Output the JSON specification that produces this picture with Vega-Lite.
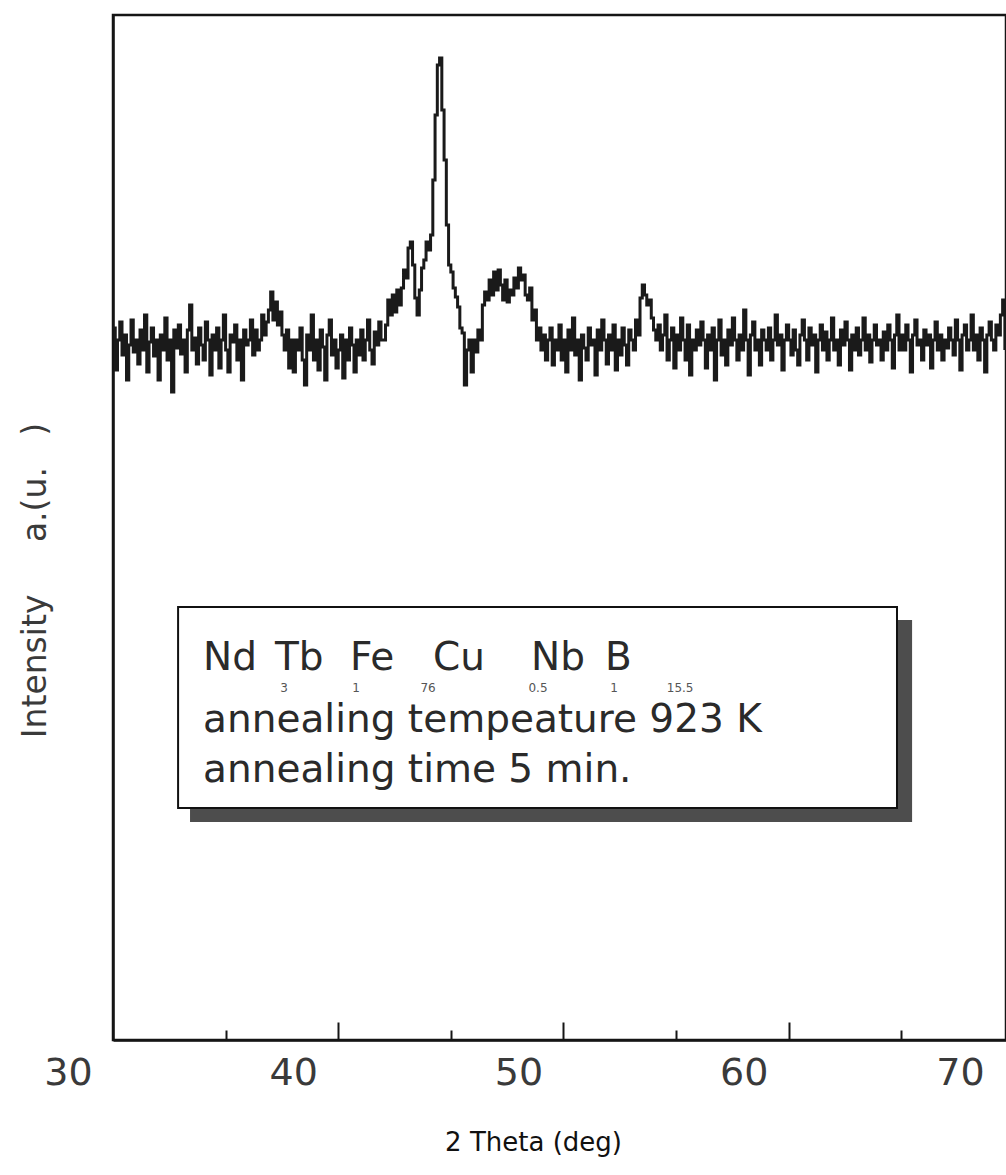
{
"$schema": "https://vega.github.io/schema/vega-lite/v6.json",
"width": 893, "height": 1025,
"autosize": {"type": "none"},
"padding": {"left": 113, "top": 15, "right": 0, "bottom": 135},
"background": "white",
"config": {"view": {"stroke": "#151515", "strokeWidth": 2.5}, "font": "DejaVu Sans"},
"datasets": {"xrd": [
{"t":30.0,"i":712},{"t":30.1,"i":670},{"t":30.2,"i":700},{"t":30.3,"i":718},{"t":30.4,"i":685},{"t":30.5,"i":705},{"t":30.6,"i":660},{"t":30.7,"i":695},{"t":30.8,"i":720},{"t":30.9,"i":688},
{"t":31.0,"i":700},{"t":31.1,"i":676},{"t":31.2,"i":710},{"t":31.3,"i":690},{"t":31.4,"i":725},{"t":31.5,"i":668},{"t":31.6,"i":698},{"t":31.7,"i":712},{"t":31.8,"i":684},{"t":31.9,"i":700},
{"t":32.0,"i":660},{"t":32.1,"i":705},{"t":32.2,"i":690},{"t":32.3,"i":722},{"t":32.4,"i":680},{"t":32.5,"i":700},{"t":32.6,"i":648},{"t":32.7,"i":710},{"t":32.8,"i":692},{"t":32.9,"i":715},
{"t":33.0,"i":686},{"t":33.1,"i":700},{"t":33.2,"i":668},{"t":33.3,"i":710},{"t":33.4,"i":735},{"t":33.5,"i":690},{"t":33.6,"i":702},{"t":33.7,"i":676},{"t":33.8,"i":712},{"t":33.9,"i":695},
{"t":34.0,"i":680},{"t":34.1,"i":718},{"t":34.2,"i":700},{"t":34.3,"i":665},{"t":34.4,"i":705},{"t":34.5,"i":690},{"t":34.6,"i":712},{"t":34.7,"i":672},{"t":34.8,"i":700},{"t":34.9,"i":725},
{"t":35.0,"i":690},{"t":35.1,"i":668},{"t":35.2,"i":705},{"t":35.3,"i":698},{"t":35.4,"i":715},{"t":35.5,"i":680},{"t":35.6,"i":700},{"t":35.7,"i":660},{"t":35.8,"i":710},{"t":35.9,"i":695},
{"t":36.0,"i":700},{"t":36.1,"i":720},{"t":36.2,"i":685},{"t":36.3,"i":710},{"t":36.4,"i":690},{"t":36.5,"i":700},{"t":36.6,"i":725},{"t":36.7,"i":705},{"t":36.8,"i":718},{"t":36.9,"i":730},
{"t":37.0,"i":748},{"t":37.1,"i":720},{"t":37.2,"i":738},{"t":37.3,"i":715},{"t":37.4,"i":728},{"t":37.5,"i":705},{"t":37.6,"i":690},{"t":37.7,"i":710},{"t":37.8,"i":672},{"t":37.9,"i":700},
{"t":38.0,"i":668},{"t":38.1,"i":700},{"t":38.2,"i":690},{"t":38.3,"i":712},{"t":38.4,"i":680},{"t":38.5,"i":655},{"t":38.6,"i":705},{"t":38.7,"i":690},{"t":38.8,"i":725},{"t":38.9,"i":680},
{"t":39.0,"i":700},{"t":39.1,"i":670},{"t":39.2,"i":710},{"t":39.3,"i":693},{"t":39.4,"i":660},{"t":39.5,"i":705},{"t":39.6,"i":720},{"t":39.7,"i":685},{"t":39.8,"i":700},{"t":39.9,"i":672},
{"t":40.0,"i":690},{"t":40.1,"i":705},{"t":40.2,"i":662},{"t":40.3,"i":700},{"t":40.4,"i":680},{"t":40.5,"i":712},{"t":40.6,"i":695},{"t":40.7,"i":668},{"t":40.8,"i":700},{"t":40.9,"i":685},
{"t":41.0,"i":710},{"t":41.1,"i":680},{"t":41.2,"i":700},{"t":41.3,"i":720},{"t":41.4,"i":690},{"t":41.5,"i":676},{"t":41.6,"i":708},{"t":41.7,"i":695},{"t":41.8,"i":718},{"t":41.9,"i":700},
{"t":42.0,"i":700},{"t":42.1,"i":715},{"t":42.2,"i":740},{"t":42.3,"i":725},{"t":42.4,"i":745},{"t":42.5,"i":728},{"t":42.6,"i":750},{"t":42.7,"i":735},{"t":42.8,"i":752},{"t":42.9,"i":770},
{"t":43.0,"i":762},{"t":43.1,"i":792},{"t":43.2,"i":798},{"t":43.3,"i":775},{"t":43.4,"i":742},{"t":43.5,"i":725},{"t":43.6,"i":750},{"t":43.7,"i":772},{"t":43.8,"i":780},{"t":43.9,"i":798},
{"t":44.0,"i":790},{"t":44.1,"i":805},{"t":44.2,"i":860},{"t":44.3,"i":925},{"t":44.4,"i":975},{"t":44.5,"i":982},{"t":44.6,"i":930},{"t":44.7,"i":880},{"t":44.8,"i":815},{"t":44.9,"i":775},
{"t":45.0,"i":768},{"t":45.1,"i":752},{"t":45.2,"i":743},{"t":45.3,"i":733},{"t":45.4,"i":712},{"t":45.5,"i":707},{"t":45.6,"i":655},{"t":45.7,"i":690},{"t":45.8,"i":700},{"t":45.9,"i":668},
{"t":46.0,"i":700},{"t":46.1,"i":688},{"t":46.2,"i":710},{"t":46.3,"i":700},{"t":46.4,"i":735},{"t":46.5,"i":748},{"t":46.6,"i":740},{"t":46.7,"i":760},{"t":46.8,"i":745},{"t":46.9,"i":768},
{"t":47.0,"i":750},{"t":47.1,"i":770},{"t":47.2,"i":755},{"t":47.3,"i":740},{"t":47.4,"i":760},{"t":47.5,"i":738},{"t":47.6,"i":750},{"t":47.7,"i":745},{"t":47.8,"i":762},{"t":47.9,"i":752},
{"t":48.0,"i":772},{"t":48.1,"i":760},{"t":48.2,"i":765},{"t":48.3,"i":745},{"t":48.4,"i":740},{"t":48.5,"i":752},{"t":48.6,"i":720},{"t":48.7,"i":730},{"t":48.8,"i":700},{"t":48.9,"i":712},
{"t":49.0,"i":690},{"t":49.1,"i":705},{"t":49.2,"i":680},{"t":49.3,"i":700},{"t":49.4,"i":712},{"t":49.5,"i":675},{"t":49.6,"i":700},{"t":49.7,"i":690},{"t":49.8,"i":715},{"t":49.9,"i":680},
{"t":50.0,"i":700},{"t":50.1,"i":668},{"t":50.2,"i":710},{"t":50.3,"i":690},{"t":50.4,"i":722},{"t":50.5,"i":685},{"t":50.6,"i":700},{"t":50.7,"i":660},{"t":50.8,"i":705},{"t":50.9,"i":692},
{"t":51.0,"i":680},{"t":51.1,"i":712},{"t":51.2,"i":695},{"t":51.3,"i":700},{"t":51.4,"i":665},{"t":51.5,"i":710},{"t":51.6,"i":690},{"t":51.7,"i":720},{"t":51.8,"i":700},{"t":51.9,"i":676},
{"t":52.0,"i":705},{"t":52.1,"i":690},{"t":52.2,"i":715},{"t":52.3,"i":670},{"t":52.4,"i":700},{"t":52.5,"i":685},{"t":52.6,"i":712},{"t":52.7,"i":695},{"t":52.8,"i":675},{"t":52.9,"i":710},
{"t":53.0,"i":700},{"t":53.1,"i":690},{"t":53.2,"i":720},{"t":53.3,"i":705},{"t":53.4,"i":742},{"t":53.5,"i":755},{"t":53.6,"i":745},{"t":53.7,"i":735},{"t":53.8,"i":740},{"t":53.9,"i":722},
{"t":54.0,"i":710},{"t":54.1,"i":700},{"t":54.2,"i":715},{"t":54.3,"i":690},{"t":54.4,"i":705},{"t":54.5,"i":725},{"t":54.6,"i":680},{"t":54.7,"i":700},{"t":54.8,"i":712},{"t":54.9,"i":672},
{"t":55.0,"i":705},{"t":55.1,"i":690},{"t":55.2,"i":722},{"t":55.3,"i":700},{"t":55.4,"i":680},{"t":55.5,"i":715},{"t":55.6,"i":665},{"t":55.7,"i":700},{"t":55.8,"i":690},{"t":55.9,"i":710},
{"t":56.0,"i":695},{"t":56.1,"i":718},{"t":56.2,"i":700},{"t":56.3,"i":672},{"t":56.4,"i":705},{"t":56.5,"i":690},{"t":56.6,"i":712},{"t":56.7,"i":660},{"t":56.8,"i":700},{"t":56.9,"i":720},
{"t":57.0,"i":685},{"t":57.1,"i":700},{"t":57.2,"i":675},{"t":57.3,"i":710},{"t":57.4,"i":695},{"t":57.5,"i":722},{"t":57.6,"i":700},{"t":57.7,"i":680},{"t":57.8,"i":705},{"t":57.9,"i":690},
{"t":58.0,"i":730},{"t":58.1,"i":700},{"t":58.2,"i":665},{"t":58.3,"i":705},{"t":58.4,"i":718},{"t":58.5,"i":690},{"t":58.6,"i":700},{"t":58.7,"i":675},{"t":58.8,"i":710},{"t":58.9,"i":700},
{"t":59.0,"i":690},{"t":59.1,"i":712},{"t":59.2,"i":680},{"t":59.3,"i":700},{"t":59.4,"i":725},{"t":59.5,"i":695},{"t":59.6,"i":705},{"t":59.7,"i":670},{"t":59.8,"i":700},{"t":59.9,"i":715},
{"t":60.0,"i":700},{"t":60.1,"i":685},{"t":60.2,"i":710},{"t":60.3,"i":690},{"t":60.4,"i":675},{"t":60.5,"i":705},{"t":60.6,"i":720},{"t":60.7,"i":700},{"t":60.8,"i":680},{"t":60.9,"i":712},
{"t":61.0,"i":695},{"t":61.1,"i":705},{"t":61.2,"i":668},{"t":61.3,"i":700},{"t":61.4,"i":715},{"t":61.5,"i":690},{"t":61.6,"i":708},{"t":61.7,"i":680},{"t":61.8,"i":700},{"t":61.9,"i":722},
{"t":62.0,"i":690},{"t":62.1,"i":700},{"t":62.2,"i":675},{"t":62.3,"i":710},{"t":62.4,"i":695},{"t":62.5,"i":718},{"t":62.6,"i":700},{"t":62.7,"i":670},{"t":62.8,"i":705},{"t":62.9,"i":690},
{"t":63.0,"i":712},{"t":63.1,"i":685},{"t":63.2,"i":700},{"t":63.3,"i":722},{"t":63.4,"i":690},{"t":63.5,"i":705},{"t":63.6,"i":678},{"t":63.7,"i":700},{"t":63.8,"i":715},{"t":63.9,"i":695},
{"t":64.0,"i":700},{"t":64.1,"i":680},{"t":64.2,"i":708},{"t":64.3,"i":690},{"t":64.4,"i":715},{"t":64.5,"i":700},{"t":64.6,"i":672},{"t":64.7,"i":705},{"t":64.8,"i":725},{"t":64.9,"i":690},
{"t":65.0,"i":705},{"t":65.1,"i":690},{"t":65.2,"i":715},{"t":65.3,"i":700},{"t":65.4,"i":668},{"t":65.5,"i":705},{"t":65.6,"i":720},{"t":65.7,"i":695},{"t":65.8,"i":700},{"t":65.9,"i":680},
{"t":66.0,"i":710},{"t":66.1,"i":695},{"t":66.2,"i":705},{"t":66.3,"i":672},{"t":66.4,"i":700},{"t":66.5,"i":718},{"t":66.6,"i":690},{"t":66.7,"i":705},{"t":66.8,"i":680},{"t":66.9,"i":700},
{"t":67.0,"i":692},{"t":67.1,"i":712},{"t":67.2,"i":700},{"t":67.3,"i":685},{"t":67.4,"i":720},{"t":67.5,"i":700},{"t":67.6,"i":670},{"t":67.7,"i":705},{"t":67.8,"i":715},{"t":67.9,"i":690},
{"t":68.0,"i":700},{"t":68.1,"i":725},{"t":68.2,"i":690},{"t":68.3,"i":705},{"t":68.4,"i":680},{"t":68.5,"i":712},{"t":68.6,"i":700},{"t":68.7,"i":668},{"t":68.8,"i":705},{"t":68.9,"i":718},
{"t":69.0,"i":700},{"t":69.1,"i":690},{"t":69.2,"i":715},{"t":69.3,"i":705},{"t":69.4,"i":725},{"t":69.5,"i":740},{"t":69.6,"i":690}
]},
"layer": [
{"data": {"name": "xrd"},
 "mark": {"type": "line", "interpolate": "step-after", "color": "#1a1a1a", "strokeWidth": 3, "clip": true},
 "encoding": {
  "x": {"field": "t", "type": "quantitative", "scale": {"domain": [30, 69.65], "nice": false, "zero": false},
   "axis": {"orient": "bottom", "values": [30, 40, 50, 60, 69.6], "labelExpr": "datum.value > 65 ? '70' : datum.label", "ticks": false, "tickSize": 0, "labelOffset": -45, "labelPadding": 14,
    "labelFontSize": 38, "labelColor": "#3a3a3a", "labelFont": "DejaVu Sans", "labelBaseline": "top", "labelFlush": false, "labelOverlap": false, "labelBound": false,
    "domainColor": "#151515", "domainWidth": 2.5, "grid": false,
    "title": "2 Theta (deg)", "titleFont": "DejaVu Sans", "titleFontSize": 26, "titleFontWeight": "normal", "titleColor": "#111",
    "titleX": 420, "titleY": 110, "titleBaseline": "alphabetic", "titleAlign": "center"}},
  "y": {"field": "i", "type": "quantitative", "scale": {"domain": [0, 1025], "nice": false, "zero": false},
   "axis": {"orient": "left", "labels": false, "ticks": false, "grid": false, "domainColor": "#151515", "domainWidth": 2.5,
    "title": "Intensity\u00a0\u00a0\u00a0\u00a0\u00a0a.(u.\u00a0\u00a0\u00a0)", "titleFont": "DejaVu Sans", "titleFontSize": 33, "titleFontWeight": "normal", "titleColor": "#3a3a3a",
    "titleX": -78, "titleY": 565, "titleAngle": -90, "titleBaseline": "middle", "titleAlign": "center"}}
 }},
{"data": {"values": [{"x1": 33.42, "x2": 65.48, "y1": 420, "y2": 218}]},
 "mark": {"type": "rect", "color": "#4d4d4d"},
 "encoding": {
  "x": {"field": "x1", "type": "quantitative", "scale": {"domain": [30, 69.65], "nice": false, "zero": false},
   "axis": {"orient": "bottom", "values": [40, 50, 60], "labels": false, "tickSize": -18, "tickWidth": 2, "tickColor": "#151515", "domain": false, "grid": false, "title": null}},
  "x2": {"field": "x2"},
  "y": {"field": "y1", "type": "quantitative", "scale": {"domain": [0, 1025], "nice": false, "zero": false}, "axis": null},
  "y2": {"field": "y2"}
 }},
{"data": {"values": [{"x1": 32.89, "x2": 64.81, "y1": 433, "y2": 232}]},
 "mark": {"type": "rect", "fill": "white", "stroke": "#111", "strokeWidth": 2},
 "encoding": {
  "x": {"field": "x1", "type": "quantitative", "scale": {"domain": [30, 69.65], "nice": false, "zero": false},
   "axis": {"orient": "bottom", "values": [35, 45, 55, 65], "labels": false, "tickSize": -10, "tickWidth": 2, "tickColor": "#151515", "domain": false, "grid": false, "title": null}},
  "x2": {"field": "x2"},
  "y": {"field": "y1", "type": "quantitative", "scale": {"domain": [0, 1025], "nice": false, "zero": false}, "axis": null},
  "y2": {"field": "y2"}
 }},
{"data": {"values": [
  {"x": 34.0, "y": 370, "txt": "Nd"},
  {"x": 37.19, "y": 370, "txt": "Tb"},
  {"x": 40.52, "y": 370, "txt": "Fe"},
  {"x": 44.21, "y": 370, "txt": "Cu"},
  {"x": 48.56, "y": 370, "txt": "Nb"},
  {"x": 51.85, "y": 370, "txt": "B"},
  {"x": 34.0, "y": 308, "txt": "annealing tempeature 923 K"},
  {"x": 34.0, "y": 258, "txt": "annealing time 5 min."}]},
 "mark": {"type": "text", "align": "left", "baseline": "alphabetic", "fontSize": 39, "font": "DejaVu Sans", "color": "#2a2a2a"},
 "encoding": {
  "x": {"field": "x", "type": "quantitative", "scale": {"domain": [30, 69.65], "nice": false, "zero": false}, "axis": null},
  "y": {"field": "y", "type": "quantitative", "scale": {"domain": [0, 1025], "nice": false, "zero": false}, "axis": null},
  "text": {"field": "txt"}
 }},
{"data": {"values": [
  {"x": 37.59, "y": 348, "txt": "3"},
  {"x": 40.79, "y": 348, "txt": "1"},
  {"x": 43.99, "y": 348, "txt": "76"},
  {"x": 48.87, "y": 348, "txt": "0.5"},
  {"x": 52.25, "y": 348, "txt": "1"},
  {"x": 55.18, "y": 348, "txt": "15.5"}]},
 "mark": {"type": "text", "align": "center", "baseline": "alphabetic", "fontSize": 12, "font": "DejaVu Sans", "color": "#555"},
 "encoding": {
  "x": {"field": "x", "type": "quantitative", "scale": {"domain": [30, 69.65], "nice": false, "zero": false}, "axis": null},
  "y": {"field": "y", "type": "quantitative", "scale": {"domain": [0, 1025], "nice": false, "zero": false}, "axis": null},
  "text": {"field": "txt"}
 }}
],
"resolve": {"axis": {"x": "independent", "y": "independent"}}
}
